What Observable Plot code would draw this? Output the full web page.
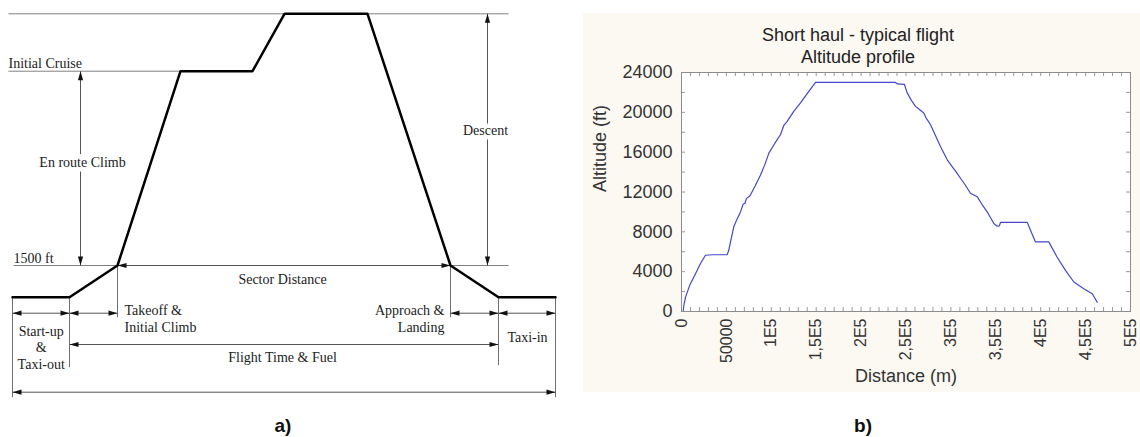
<!DOCTYPE html>
<html><head><meta charset="utf-8">
<script src="https://cdn.jsdelivr.net/npm/d3@7"></script>
<script src="https://cdn.jsdelivr.net/npm/@observablehq/plot@0.6"></script>
<style>
html,body{margin:0;padding:0;background:#fff;}
#wrap{position:relative;width:1140px;height:437px;overflow:hidden;background:#fff;}
#pa{position:absolute;left:0;top:0;}
#pb{position:absolute;left:583px;top:13px;}
.lab{position:absolute;font:bold 19px "Liberation Sans",Arial,sans-serif;color:#111;transform:translate(-50%,-50%);white-space:nowrap;}
#pb g[aria-label^="x-axis"] text{font-size:16px;}
</style></head><body>
<div id="wrap"><div id="pa"></div><div id="pb"></div>
<div class="lab" style="left:283px;top:426px">a)</div>
<div class="lab" style="left:863px;top:426px">b)</div>
</div>
<script>
// ---------- Panel a: schematic flight profile (schematic units) ----------
const phaseX   = [0, 57, 105, 168, 240, 272, 355, 438, 486, 543];
const phaseAlt = [0, 0, 31.7, 226, 226, 283.4, 283.4, 31.7, 0, 0];
const levelAlt = [283.4, 226, 31.7];
const levelX1  = [-4, -4, 1];
const levelX2  = [496, 168, 496];
// horizontal dimension arrows
const dimHx1  = [105, 0, 57, 438, 486, 57, 0];
const dimHx2  = [438, 57, 105, 486, 543, 486, 543];
const dimHalt = [31.7, -16, -16, -16, -16, -47.3, -95];
// vertical dimension arrows
const dimVx  = [68, 475];
const dimVa1 = [31.7, 31.7];
const dimVa2 = [226, 283.4];
// extension lines
const extX  = [105, 438, 57, 486, 0, 543];
const extA1 = [31.7, 31.7, 0, 0, 0, 0];
const extA2 = [-20, -20, -70, -68, -100, -100];
// labels
const labText   = ["Initial Cruise", "1500 ft", "Sector Distance", "Takeoff &\nInitial Climb", "Approach &\nLanding", "Start-up\n&\nTaxi-out", "Flight Time & Fuel", "Taxi-in"];
const labX      = [-4, 1, 270, 112, 432, 28.7, 270, 515];
const labAlt    = [234.7, 39.7, 18.7, -21, -21, -50, -59.3, -39.3];
const labAnchor = ["start", "start", "middle", "start", "end", "middle", "middle", "middle"];
const haloText = ["En route Climb", "Descent"];
const haloX    = [70, 473];
const haloAlt  = [134.7, 166.7];

const profile = phaseX.map((x, i) => ({x, a: phaseAlt[i]}));
const levels = levelAlt.map((a, i) => ({a, x1: levelX1[i], x2: levelX2[i]}));
const dimH = dimHx1.map((x1, i) => ({x1, x2: dimHx2[i], a: dimHalt[i]}));
const dimV = dimVx.map((x, i) => ({x, a1: dimVa1[i], a2: dimVa2[i]}));
const ext = extX.map((x, i) => ({x, a1: extA1[i], a2: extA2[i]}));
const labs = labText.map((t, i) => ({t, x: labX[i], a: labAlt[i], anchor: labAnchor[i]}));
const halos = haloText.map((t, i) => ({t, x: haloX[i], a: haloAlt[i]}));

const headR = {draw(c){c.moveTo(0,0);c.lineTo(-9,-2.6);c.lineTo(-9,2.6);c.closePath();}};
const headL = {draw(c){c.moveTo(0,0);c.lineTo(9,-2.6);c.lineTo(9,2.6);c.closePath();}};
const headU = {draw(c){c.moveTo(0,0);c.lineTo(-2.6,9);c.lineTo(2.6,9);c.closePath();}};
const headD = {draw(c){c.moveTo(0,0);c.lineTo(-2.6,-9);c.lineTo(2.6,-9);c.closePath();}};

const serif = "Liberation Serif, Times New Roman, serif";
const fs = 14;
const pa = Plot.plot({
  width: 570, height: 437,
  marginLeft: 0, marginRight: 0, marginTop: 0, marginBottom: 0,
  x: {domain: [-12, 558], axis: null},
  y: {domain: [-140.3, 296.7], axis: null},
  style: {background: "transparent", overflow: "visible"},
  marks: [
    Plot.link(levels, {x1: "x1", x2: "x2", y1: "a", y2: "a", stroke: "#808080", strokeWidth: 1}),
    Plot.link(ext, {x1: "x", x2: "x", y1: "a1", y2: "a2", stroke: "#707070", strokeWidth: 1}),
    Plot.link(dimH, {x1: "x1", x2: "x2", y1: "a", y2: "a", stroke: "#555", strokeWidth: 1}),
    Plot.link(dimV, {x1: "x", x2: "x", y1: "a1", y2: "a2", stroke: "#555", strokeWidth: 1}),
    Plot.dot(dimH, {x: "x1", y: "a", symbol: headL, fill: "#111", stroke: "none"}),
    Plot.dot(dimH, {x: "x2", y: "a", symbol: headR, fill: "#111", stroke: "none"}),
    Plot.dot(dimV, {x: "x", y: "a2", symbol: headU, fill: "#111", stroke: "none"}),
    Plot.dot(dimV, {x: "x", y: "a1", symbol: headD, fill: "#111", stroke: "none"}),
    Plot.line(profile, {x: "x", y: "a", stroke: "#000", strokeWidth: 2.5, strokeLinejoin: "miter"}),
    Plot.text(halos, {x: "x", y: "a", text: "t", fontFamily: serif, fontSize: fs, fill: "#222", stroke: "white", strokeWidth: 9}),
    Plot.text(labs.filter(d => d.anchor === "start"), {x: "x", y: "a", text: "t", textAnchor: "start", fontFamily: serif, fontSize: fs, fill: "#222", lineHeight: 1.19}),
    Plot.text(labs.filter(d => d.anchor === "middle"), {x: "x", y: "a", text: "t", textAnchor: "middle", fontFamily: serif, fontSize: fs, fill: "#222", lineHeight: 1.17}),
    Plot.text(labs.filter(d => d.anchor === "end"), {x: "x", y: "a", text: "t", textAnchor: "end", fontFamily: serif, fontSize: fs, fill: "#222", lineHeight: 1.19})
  ]
});
document.getElementById("pa").appendChild(pa);

// ---------- Panel b: short haul altitude profile ----------
const distM = [1900, 3000, 4500, 9000, 15600, 21000, 26700, 35000, 50900, 52500, 54600, 58200, 62000, 65700, 68700, 70500, 72400, 76100, 82000, 88000, 93000, 97300, 104000, 110200, 114000, 117700, 125000, 132500, 141000, 149200, 238300, 240500, 248300, 251300, 256000, 260600, 264300, 269800, 272000, 277300, 288400, 295900, 301400, 306000, 310700, 316000, 321800, 329300, 335000, 340400, 347800, 351600, 354000, 355200, 385000, 394200, 409000, 418000, 427600, 436900, 448000, 457400, 462900];
const altFt = [100, 800, 1440, 2600, 3800, 4800, 5650, 5700, 5720, 6100, 6990, 8500, 9300, 10000, 10790, 10850, 11360, 11600, 12600, 13700, 14800, 15900, 16900, 17750, 18700, 19100, 20100, 20940, 22000, 23000, 23000, 22850, 22800, 21950, 21200, 20600, 20340, 19940, 19500, 18750, 16570, 15230, 14550, 14000, 13380, 12700, 11870, 11530, 10700, 10010, 8840, 8570, 8600, 8940, 8940, 6990, 6990, 5500, 4130, 2960, 2290, 1780, 940];
const xTickValues = [0, 50000, 100000, 150000, 200000, 250000, 300000, 350000, 400000, 450000, 500000];
const xTickLabels = ["0", "50000", "1E5", "1,5E5", "2E5", "2,5E5", "3E5", "3,5E5", "4E5", "4,5E5", "5E5"];
const yTickValues = [0, 4000, 8000, 12000, 16000, 20000, 24000];
const minorXTicks = d3.range(0, 500001, 10000);
const minorYTicks = d3.range(0, 24001, 2000);
const titleLines = ["Short haul - typical flight", "Altitude profile"];
const xLabel = "Distance (m)";
const yLabel = "Altitude (ft)";

const flight = distM.map((d, i) => ({d, a: altFt[i]}));
const sans = "Liberation Sans, Arial, sans-serif";
const pb = Plot.plot({
  width: 557, height: 379,
  marginLeft: 98, marginRight: 10, marginTop: 59, marginBottom: 81,
  style: {background: "#fcf8f2", fontFamily: sans, fontSize: "18px", color: "#333", overflow: "visible"},
  x: {domain: [0, 500000], ticks: xTickValues, tickFormat: d => xTickLabels[xTickValues.indexOf(d)], tickRotate: -90, tickSize: 0, tickPadding: 7, label: null},
  y: {domain: [0, 24000], ticks: yTickValues, tickFormat: d => String(d), tickSize: 0, tickPadding: 9, label: null},
  marks: [
    Plot.frame({fill: "white", stroke: null}),
    Plot.tickX(minorXTicks, {x: d => d, insetTop: 235, stroke: "#9a9a9a"}),
    Plot.tickX(minorXTicks, {x: d => d, insetBottom: 235, stroke: "#9a9a9a"}),
    Plot.tickY(minorYTicks, {y: d => d, insetRight: 445, stroke: "#9a9a9a"}),
    Plot.tickY(minorYTicks, {y: d => d, insetLeft: 445, stroke: "#9a9a9a"}),
    Plot.line(flight, {x: "d", y: "a", stroke: "#4646c8", strokeWidth: 1.2}),
    Plot.frame({stroke: "#8c8c8c"}),
    Plot.text([titleLines[0]], {text: d => d, frameAnchor: "top", dx: -48, dy: -44, fontSize: 18, fill: "#222"}),
    Plot.text([titleLines[1]], {text: d => d, frameAnchor: "top", dx: -48, dy: -22, fontSize: 18, fill: "#222"}),
    Plot.text([xLabel], {text: d => d, frameAnchor: "bottom", dy: 70, fontSize: 18, fill: "#333"}),
    Plot.text([yLabel], {text: d => d, frameAnchor: "left", dx: -81, rotate: -90, fontSize: 18, fill: "#333"})
  ]
});
document.getElementById("pb").appendChild(pb);
</script>
</body></html>
